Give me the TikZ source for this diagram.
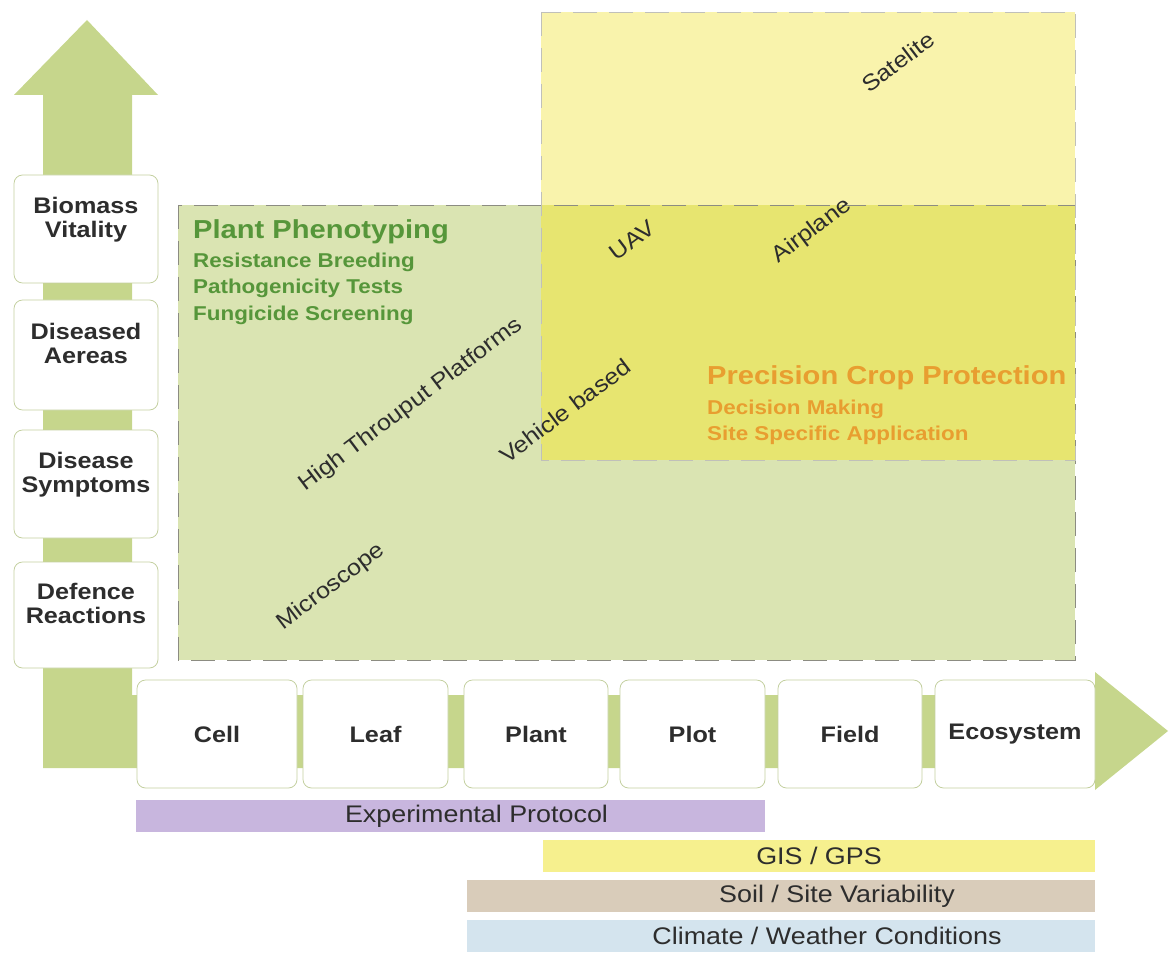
\documentclass[tikz,border=0pt]{standalone}
\usepackage{fontspec}
\setmainfont{Liberation Sans}[FakeStretch=1.12]
\usepackage{tikz}
\usetikzlibrary{positioning}
\definecolor{arrowgreen}{RGB}{198,214,140}
\definecolor{boxline}{RGB}{196,208,160}
\definecolor{phenogreen}{RGB}{218,228,178}
\definecolor{skyyellow}{RGB}{249,243,172}
\definecolor{overlapyellow}{RGB}{231,229,112}
\definecolor{dashgrey}{RGB}{140,140,130}
\definecolor{titlegreen}{RGB}{86,150,58}
\definecolor{titleorange}{RGB}{232,158,48}
\definecolor{protopurple}{RGB}{200,182,222}
\definecolor{gisyellow}{RGB}{246,240,142}
\definecolor{soiltan}{RGB}{217,204,186}
\definecolor{climateblue}{RGB}{212,228,238}
\definecolor{labeltext}{RGB}{45,45,45}
\tikzset{
  scalebox/.style={draw=boxline, thick, fill=white, rounded corners=3mm, align=center,
    font=\fontsize{22.5}{24}\selectfont\bfseries, text=labeltext},
  levelbox/.style={scalebox, minimum width=144, minimum height=108},
  sizebox/.style={scalebox, minimum height=108},
  platform/.style={rotate=37, font=\fontsize{22.5}{24}\selectfont, text=labeltext},
  factorbar/.style={minimum height=32, inner sep=0pt, font=\fontsize{24}{26}\selectfont, text=labeltext},
  areatitle/.style={anchor=west, inner sep=0pt, font=\fontsize{26}{28}\selectfont\bfseries},
  areaitem/.style={anchor=west, inner sep=0pt, font=\fontsize{20}{22}\selectfont\bfseries},
  areaframe/.style={thick, dash pattern=on 24pt off 12pt},
}

\begin{document}
\begin{tikzpicture}[x=1pt,y=-1pt]
  \useasboundingbox (0,0) rectangle (1171,960);
  % axes
  \fill[arrowgreen] (43,768) -- (43,95) -- (14,95) -- (87,20) -- (158,95) -- (132,95)
    -- (132,695) -- (1095,695) -- (1095,672) -- (1168,731) -- (1095,790) -- (1095,768) -- cycle;
  % application areas
  \fill[phenogreen] (178,205) rectangle (1075,660);
  \fill[skyyellow] (541,12) rectangle (1075,205);
  \fill[overlapyellow] (541,205) rectangle (1075,460);
  \draw[areaframe, dashgrey] (178,205) rectangle (1075,660);
  \draw[areaframe, dashgrey!55] (541,12) rectangle (1075,460);
  \node[areatitle, text=titlegreen] (pheno) at (193,232) {Plant Phenotyping};
  \node[areaitem, text=titlegreen] (breeding) at (193,262) {Resistance Breeding};
  \node[areaitem, text=titlegreen] (patho) at (193,288) {Pathogenicity Tests};
  \node[areaitem, text=titlegreen] (fungi) at (193,315) {Fungicide Screening};
  \node[areatitle, text=titleorange] (precision) at (707,378) {Precision Crop Protection};
  \node[areaitem, text=titleorange] (decision) at (707,409) {Decision Making};
  \node[areaitem, text=titleorange] (sitespec) at (707,435) {Site Specific Application};
  % sensor platforms
  \node[platform] (satelite) at (898,62) {Satelite};
  \node[platform] (airplane) at (812,231) {Airplane};
  \node[platform] (uav) at (632,240) {UAV};
  \node[platform] (vehicle) at (565,411) {Vehicle based};
  \node[platform] (htp) at (411,405) {High Throuput Platforms};
  \node[platform] (microscope) at (331,587) {Microscope};
  % levels
  \node[levelbox] (biomass) at (86,229) {Biomass\\Vitality\\};
  \node[levelbox, minimum height=110] (diseased) at (86,355) {Diseased\\Aereas\\};
  \node[levelbox] (symptoms) at (86,484) {Disease\\Symptoms\\};
  \node[levelbox, minimum height=106] (defence) at (86,615) {Defence\\Reactions\\};
  % scales
  \node[sizebox, minimum width=160] (cell) at (217,734) {Cell};
  \node[sizebox, minimum width=145] (leaf) at (375.5,734) {Leaf};
  \node[sizebox, minimum width=144] (plant) at (536,734) {Plant};
  \node[sizebox, minimum width=145] (plot) at (692.5,734) {Plot};
  \node[sizebox, minimum width=144] (field) at (850,734) {Field};
  \node[sizebox, minimum width=160] (eco) at (1015,734) {Ecosystem};
  % factors
  \node[factorbar, fill=protopurple, minimum width=629] (protocol) at (450.5,816) {\hspace*{52pt}Experimental Protocol};
  \node[factorbar, fill=gisyellow, minimum width=552] (gis) at (819,856) {GIS / GPS};
  \node[factorbar, fill=soiltan, minimum width=628] (soil) at (781,896) {\hspace*{112pt}Soil / Site Variability};
  \node[factorbar, fill=climateblue, minimum width=628] (climate) at (781,936) {\hspace*{92pt}Climate / Weather Conditions};
\end{tikzpicture}
\end{document}
